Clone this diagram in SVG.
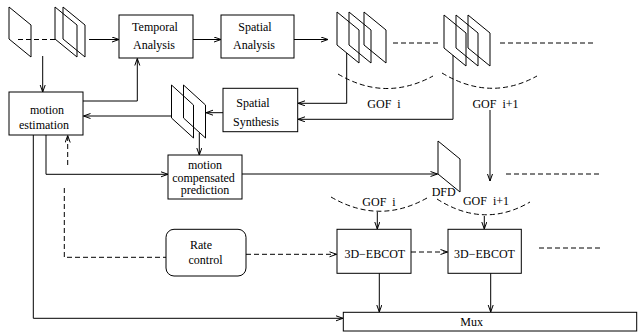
<svg xmlns="http://www.w3.org/2000/svg" width="638" height="335" viewBox="0 0 638 335">
<style>
.b{fill:#fff;stroke:#000;stroke-width:1}
.f{fill:none;stroke:#000;stroke-width:1}
.c{fill:none;stroke:#000;stroke-width:1}
.d{fill:none;stroke:#000;stroke-width:1;stroke-dasharray:5 3}
text{font-family:"Liberation Serif","Times New Roman",serif;font-size:12px;fill:#000;text-anchor:middle}
</style>
<defs>
<marker id="a" markerWidth="9" markerHeight="7" refX="7.5" refY="3" orient="auto" markerUnits="userSpaceOnUse">
<path d="M0.5,0.5 L7.5,3 L0.5,5.5" fill="none" stroke="#000" stroke-width="1"/>
</marker>
</defs>
<rect width="638" height="335" fill="#fff"/>

<g id="connectors">
<path class="d" d="M18,39.5 H55"/>
<path class="c" d="M89,39.5 H119" marker-end="url(#a)"/>
<path class="c" d="M42.7,56 V92" marker-end="url(#a)"/>
<path class="c" d="M193,39.5 H221" marker-end="url(#a)"/>
<path class="c" d="M294,39.5 H328" marker-end="url(#a)"/>
<path class="c" d="M83,101 H137.3 V58.5" marker-end="url(#a)"/>
<path class="c" d="M346.7,53 V103.3 H298" marker-end="url(#a)"/>
<path class="c" d="M453,55 V119.3 H298" marker-end="url(#a)"/>
<path class="c" d="M490,110 V181" marker-end="url(#a)"/>
<path class="c" d="M223,112.7 H206" marker-end="url(#a)"/>
<path class="c" d="M171.5,116 H83.5" marker-end="url(#a)"/>
<path class="c" d="M199.3,133 V155" marker-end="url(#a)"/>
<path class="c" d="M46,135 V174.3 H168" marker-end="url(#a)"/>
<path class="c" d="M242,174 H437.5" marker-end="url(#a)"/>
<path class="c" d="M33.3,135 V318.3 H343" marker-end="url(#a)"/>
<path class="d" d="M67.7,165 V135.5" marker-end="url(#a)"/>
<path class="d" d="M64.3,188 V257.3 H166"/>
<path class="d" d="M246,254.3 H336.5" marker-end="url(#a)"/>
<path class="d" d="M411,252 H447.5" marker-end="url(#a)"/>
<path class="c" d="M377.3,212 V229" marker-end="url(#a)"/>
<path class="c" d="M484.3,216 V229" marker-end="url(#a)"/>
<path class="c" d="M379.3,273 V312" marker-end="url(#a)"/>
<path class="c" d="M490.7,273 V312" marker-end="url(#a)"/>
<path class="d" d="M393,43 H438"/>
<path class="d" d="M500,43 H594"/>
<path class="d" d="M506,174 H600"/>
<path class="d" d="M539,248 H601"/>
<path class="d" d="M338,74 Q385,102 433,76"/>
<path class="d" d="M442,73 Q490,102 537,76"/>
<path class="d" d="M331,197 Q379,225 427,198"/>
<path class="d" d="M437,199 Q484,229 530,202"/>
</g>

<g id="input-frame">
<polygon class="f" points="9,7 31,25 31,57 9,39"/>
</g>
<g id="input-frames">
<polygon class="f" points="55,7 77,25 77,57 55,39"/>
<polygon class="f" points="63,7 85,25 85,57 63,39"/>
</g>
<g id="temporal-analysis">
<rect class="b" x="119" y="15" width="74" height="43"/>
<text x="155" y="31">Temporal</text>
<text x="154" y="49">Analysis</text>
</g>
<g id="spatial-analysis">
<rect class="b" x="221" y="15" width="73" height="43"/>
<text x="255" y="31">Spatial</text>
<text x="254" y="49">Analysis</text>
</g>
<g id="gof-frames-1">
<polygon class="f" points="337,12 359,30 359,63 337,45"/>
<polygon class="f" points="349,12 371,30 371,63 349,45"/>
<polygon class="f" points="364,12 386,30 386,63 364,45"/>
</g>
<g id="gof-frames-2">
<polygon class="f" points="444,15 466,33 466,66 444,48"/>
<polygon class="f" points="456,15 478,33 478,66 456,48"/>
<polygon class="f" points="468,15 490,33 490,66 468,48"/>
</g>
<g id="gof-labels-top">
<text x="384" y="107.5" xml:space="preserve">GOF  i</text>
<text x="495.5" y="107.5" xml:space="preserve">GOF  i+1</text>
</g>
<g id="motion-estimation">
<rect class="b" x="9" y="92" width="74" height="43"/>
<text x="47" y="114">motion</text>
<text x="44" y="128.5">estimation</text>
</g>
<g id="spatial-synthesis">
<rect class="b" x="223" y="88.3" width="74.7" height="43.4"/>
<text x="253" y="107">Spatial</text>
<text x="256" y="126">Synthesis</text>
</g>
<g id="synth-frames">
<polygon class="f" points="171.5,85 193.5,105 193.5,138 171.5,118"/>
<polygon class="f" points="183.5,85 205.5,105 205.5,138 183.5,118"/>
</g>
<g id="mcp">
<rect class="b" x="168" y="155" width="74" height="44"/>
<text x="205" y="169">motion</text>
<text x="203.5" y="181.5">compensated</text>
<text x="205" y="194">prediction</text>
</g>
<g id="dfd">
<polygon class="f" points="438,141 460,159 460,192 438,174"/>
<text x="443.7" y="196">DFD</text>
</g>
<g id="gof-labels-bottom">
<text x="379" y="206" xml:space="preserve">GOF  i</text>
<text x="486" y="205" xml:space="preserve">GOF  i+1</text>
</g>
<g id="rate-control">
<rect class="b" x="166" y="229.3" width="80" height="46.7" rx="8" ry="8"/>
<text x="201" y="248.5">Rate</text>
<text x="205.5" y="264">control</text>
</g>
<g id="ebcot-1">
<rect class="b" x="337" y="229.3" width="74" height="44"/>
<text x="374.8" y="257.5">3D−EBCOT</text>
</g>
<g id="ebcot-2">
<rect class="b" x="448" y="229.3" width="73.3" height="44"/>
<text x="484.5" y="257.5">3D−EBCOT</text>
</g>
<g id="mux">
<rect class="b" x="343.3" y="312.3" width="293.4" height="18.7"/>
<text x="471.7" y="326">Mux</text>
</g>
</svg>
